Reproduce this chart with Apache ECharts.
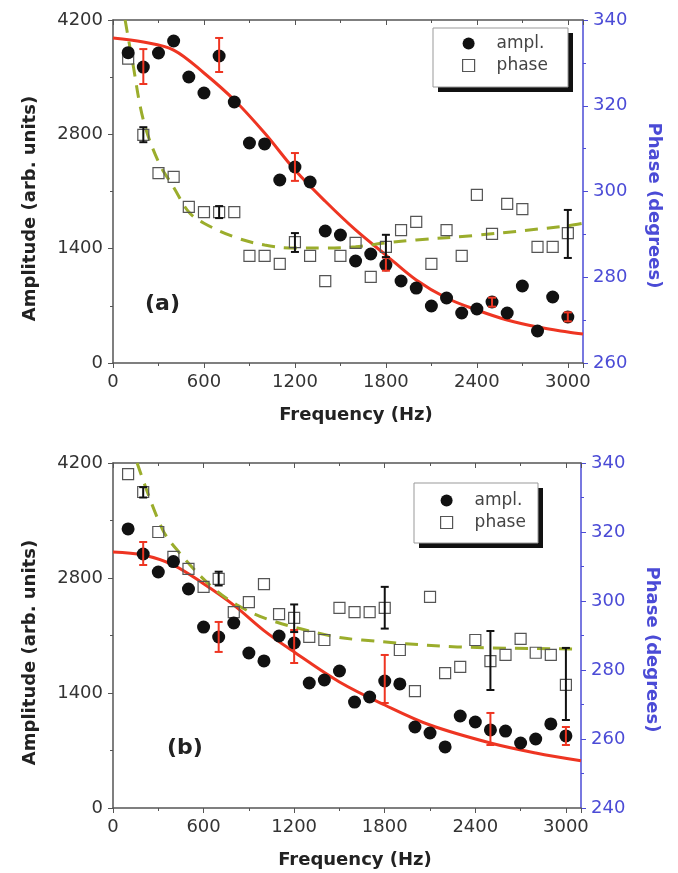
<!DOCTYPE html>
<html>
<head>
<meta charset="utf-8">
<script src="https://cdn.jsdelivr.net/npm/echarts@6/dist/echarts.min.js"></script>
<style>
  html, body { margin: 0; background: #fff; }
  #chart { width: 678px; height: 873px; }
</style>
</head>
<body>
<div id="chart"></div>
<script>
// measured frequencies (Hz), same for both panels
const freqs = [100, 200, 300, 400, 500, 600, 700, 800, 900, 1000,
  1100, 1200, 1300, 1400, 1500, 1600, 1700, 1800, 1900, 2000,
  2100, 2200, 2300, 2400, 2500, 2600, 2700, 2800, 2900, 3000]

// panel (a)
const ampA = [3800, 3624, 3796, 3943, 3502, 3306, 3759, 3196, 2694, 2682,
  2241, 2400, 2216, 1616, 1567, 1249, 1335, 1200, 1004, 918,
  698, 796, 612, 661, 747, 612, 943, 392, 808, 563]
const phaseA = [331, 313.2, 304.3, 303.4, 296.4, 295.2, 295.2, 295.2, 285, 285,
  283.1, 288.2, 285, 279.1, 285, 288, 280.1, 287.1, 291, 292.9,
  283.1, 291, 285, 299.2, 290.1, 297.1, 295.9, 287.1, 287.1, 290.3]
const ampFitA = [[0, 3980], [200, 3930], [400, 3832], [600, 3551], [800, 3220], [1000, 2816],
  [1200, 2363], [1400, 1980], [1600, 1629], [1800, 1322], [2000, 1016], [2200, 796],
  [2400, 649], [2600, 526], [2800, 440], [3000, 380], [3100, 355]]
const phaseFitA = [[80, 340], [130, 330], [200, 316.7], [300, 306.9], [400, 301], [500, 295.2],
  [600, 292.6], [800, 289.4], [1000, 287.5], [1200, 286.8], [1400, 286.8], [1600, 287.1],
  [1800, 288], [2000, 288.7], [2400, 289.8], [3000, 292], [3100, 292.6]]
// [freq, low, high]
const ampErrA = [[200, 3416, 3844], [700, 3563, 3980], [1200, 2230, 2571],
  [1800, 1130, 1290], [2500, 690, 800], [3000, 510, 620]]
const phaseErrA = [[200, 311.5, 315], [700, 293.8, 296.6], [1200, 285.9, 290.3],
  [1800, 284.7, 289.9], [3000, 284.5, 295.7]]

// panel (b)
const ampB = [3397, 3092, 2873, 3000, 2666, 2203, 2082, 2252, 1887, 1790,
  2094, 2009, 1522, 1558, 1668, 1290, 1351, 1546, 1510, 986,
  913, 743, 1120, 1047, 950, 937, 791, 840, 1023, 877]
const phaseB = [336.8, 331.6, 320, 312.8, 309.3, 304.1, 306.4, 296.8, 299.7, 304.9,
  296.2, 295.1, 289.6, 288.7, 298, 296.8, 296.8, 298, 285.8, 273.9,
  301.2, 279.1, 280.9, 288.7, 282.6, 284.4, 289, 285, 284.4, 275.7]
const ampFitB = [[0, 3117], [200, 3080], [400, 2958], [600, 2730], [800, 2470], [1000, 2160],
  [1200, 1899], [1500, 1534], [1800, 1254], [2100, 1010], [2500, 791], [2800, 670], [3100, 575]]
const phaseFitB = [[160, 340], [325, 321], [440, 314], [640, 304.7], [820, 298.9], [1040, 294.5],
  [1450, 289.8], [1650, 288.7], [2280, 286.7], [3100, 286.1]]
const ampErrB = [[200, 2958, 3238], [700, 1900, 2265], [1200, 1765, 2167],
  [1800, 1278, 1863], [2500, 767, 1157], [3000, 767, 986]]
const phaseErrB = [[200, 330, 333], [700, 304.5, 308.5], [1200, 291, 299],
  [1800, 292, 304.1], [2500, 274.2, 291.3], [3000, 265.5, 286.4]]

const FONT = 'DejaVu Sans'
const GRAY = '#555'
const BLUE = '#4b4bd6'
const RED = '#ee3522'
const GREEN = '#9bad2c'

const chart = echarts.init(document.getElementById('chart'))

const plain = v => String(v)

function bottomX(grid) {
  return {
    type: 'value', gridIndex: grid, position: 'bottom',
    min: 0, max: 3100, interval: 600,
    name: 'Frequency (Hz)', nameLocation: 'middle', nameGap: 43,
    nameTextStyle: { fontFamily: FONT, fontWeight: 'bold', fontSize: 18, color: '#222', padding: [0, 0, 0, 16] },
    axisLine: { onZero: false, lineStyle: { color: GRAY, width: 1.5 } },
    axisTick: { length: 5, lineStyle: { color: GRAY } },
    minorTick: { show: true, splitNumber: 2, length: 3, lineStyle: { color: GRAY } },
    axisLabel: { fontFamily: FONT, fontSize: 18, color: '#333', margin: 10, showMaxLabel: false, formatter: plain },
    splitLine: { show: false }
  }
}

function topX(grid) {
  return {
    type: 'value', gridIndex: grid, position: 'top',
    min: 0, max: 3100, interval: 600,
    axisLine: { onZero: false, lineStyle: { color: GRAY, width: 1.5 } },
    axisTick: { inside: true, length: 5, lineStyle: { color: GRAY } },
    minorTick: { show: true, splitNumber: 2, length: 3, lineStyle: { color: GRAY } },
    axisLabel: { show: false },
    splitLine: { show: false }
  }
}

function leftY(grid) {
  return {
    type: 'value', gridIndex: grid, position: 'left',
    min: 0, max: 4200, interval: 1400,
    name: 'Amplitude (arb. units)', nameLocation: 'middle', nameGap: 74,
    nameTextStyle: { fontFamily: FONT, fontWeight: 'bold', fontSize: 18, color: '#222', padding: [0, 34, 0, 0] },
    axisLine: { show: true, onZero: false, lineStyle: { color: GRAY, width: 1.5 } },
    axisTick: { length: 5, lineStyle: { color: GRAY } },
    minorTick: { show: true, splitNumber: 2, length: 3, lineStyle: { color: GRAY } },
    axisLabel: { fontFamily: FONT, fontSize: 18, color: '#333', margin: 10, formatter: plain },
    splitLine: { show: false }
  }
}

function rightY(grid, min) {
  return {
    type: 'value', gridIndex: grid, position: 'right',
    min: min, max: 340, interval: 20,
    name: 'Phase (degrees)', nameLocation: 'middle', nameGap: 62, nameRotate: -90,
    nameTextStyle: { fontFamily: FONT, fontWeight: 'bold', fontSize: 18, color: BLUE, padding: [0, 0, 0, 28] },
    axisLine: { show: true, onZero: false, lineStyle: { color: BLUE, width: 1.5 } },
    axisTick: { length: 5, lineStyle: { color: BLUE } },
    minorTick: { show: true, splitNumber: 2, length: 3, lineStyle: { color: BLUE } },
    axisLabel: { fontFamily: FONT, fontSize: 18, color: BLUE, margin: 10, formatter: plain },
    splitLine: { show: false }
  }
}

// legend items only; the framed box with its shadow is drawn as graphic rects below it
function legendItems(left, top) {
  return {
    orient: 'vertical', left: left, top: top, padding: 0, z: 20,
    itemWidth: 12, itemHeight: 12, itemGap: 5,
    textStyle: { fontFamily: FONT, fontSize: 17, color: '#444', padding: [0, 0, 0, 17] },
    selectedMode: false,
    data: [
      { name: 'ampl.', icon: 'circle', itemStyle: { color: '#111', opacity: 1 } },
      { name: 'phase', icon: 'rect', itemStyle: { color: 'rgba(255,255,255,0)', borderColor: GRAY, borderWidth: 1.2 } }
    ]
  }
}

function legendFrame(x, y, w, h) {
  return [
    { type: 'rect', shape: { x: x + 5, y: y + 5, width: w, height: h }, style: { fill: '#111' }, z: 10 },
    { type: 'rect', shape: { x: x, y: y, width: w, height: h }, style: { fill: '#fff', stroke: '#999', lineWidth: 1 }, z: 11 }
  ]
}

function errBars(xi, yi, data, color) {
  return {
    type: 'custom', xAxisIndex: xi, yAxisIndex: yi, z: 5, silent: true,
    data: data,
    encode: { x: 0, y: [1, 2] },
    renderItem: (params, api) => {
      const x = api.value(0)
      const lo = api.coord([x, api.value(1)])
      const hi = api.coord([x, api.value(2)])
      const style = { stroke: color, lineWidth: 2 }
      const cap = 4
      return {
        type: 'group',
        children: [
          { type: 'line', shape: { x1: lo[0], y1: lo[1], x2: hi[0], y2: hi[1] }, style },
          { type: 'line', shape: { x1: lo[0] - cap, y1: lo[1], x2: lo[0] + cap, y2: lo[1] }, style },
          { type: 'line', shape: { x1: hi[0] - cap, y1: hi[1], x2: hi[0] + cap, y2: hi[1] }, style }
        ]
      }
    }
  }
}

function panel(xi, yl, yr, amp, phase, ampFit, phaseFit, ampErr, phaseErr) {
  return [
    {
      type: 'line', name: 'ampl. fit', xAxisIndex: xi, yAxisIndex: yl, data: ampFit,
      smooth: 0.35, showSymbol: false, silent: true, z: 2,
      lineStyle: { color: RED, width: 3 }
    },
    {
      type: 'line', name: 'phase fit', xAxisIndex: xi, yAxisIndex: yr, data: phaseFit,
      smooth: 0.35, showSymbol: false, silent: true, z: 2,
      lineStyle: { color: GREEN, width: 3, type: [13, 9] }
    },
    {
      type: 'scatter', name: 'phase', xAxisIndex: xi, yAxisIndex: yr,
      data: freqs.map((f, i) => [f, phase[i]]),
      symbol: 'rect', symbolSize: 11, z: 3,
      itemStyle: { color: 'rgba(255,255,255,0)', borderColor: GRAY, borderWidth: 1.2, opacity: 1 }
    },
    {
      type: 'scatter', name: 'ampl.', xAxisIndex: xi, yAxisIndex: yl,
      data: freqs.map((f, i) => [f, amp[i]]),
      symbol: 'circle', symbolSize: 13, z: 4,
      itemStyle: { color: '#111', opacity: 1 }
    },
    errBars(xi, yl, ampErr, RED),
    errBars(xi, yr, phaseErr, '#111')
  ]
}

chart.setOption({
  backgroundColor: '#fff',
  animation: false,
  grid: [
    { left: 113, top: 20, width: 470, height: 343 },
    { left: 113, top: 463, width: 468, height: 345 }
  ],
  xAxis: [bottomX(0), topX(0), bottomX(1), topX(1)],
  yAxis: [leftY(0), rightY(0, 260), leftY(1), rightY(1, 240)],
  legend: [legendItems(462, 35), legendItems(440, 492)],
  graphic: [
    ...legendFrame(433, 28, 135, 59),
    ...legendFrame(414, 483, 124, 60),
    { type: 'text', left: 145, top: 293, style: { text: '(a)', font: 'bold 22px "DejaVu Sans"', fill: '#222' } },
    { type: 'text', left: 167, top: 737, style: { text: '(b)', font: 'bold 22px "DejaVu Sans"', fill: '#222' } }
  ],
  series: [
    ...panel(0, 0, 1, ampA, phaseA, ampFitA, phaseFitA, ampErrA, phaseErrA),
    ...panel(2, 2, 3, ampB, phaseB, ampFitB, phaseFitB, ampErrB, phaseErrB)
  ]
})
</script>
</body>
</html>
